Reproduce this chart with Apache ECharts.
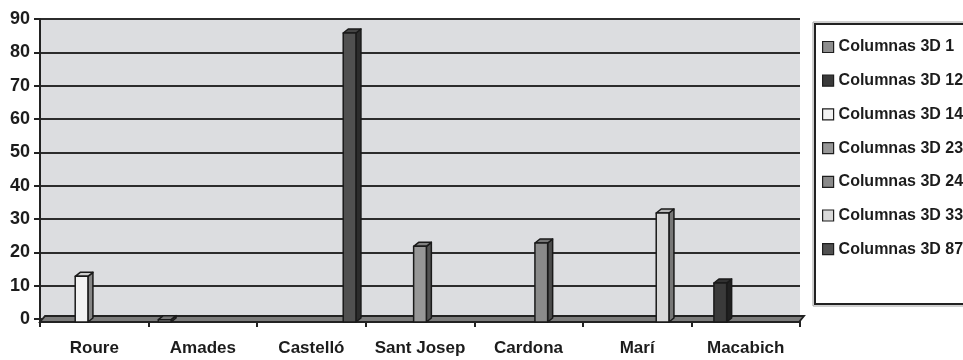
<!DOCTYPE html>
<html>
<head>
<meta charset="utf-8">
<script src="https://cdn.jsdelivr.net/npm/echarts@6/dist/echarts.min.js"></script>
<style>
  html, body { margin: 0; padding: 0; background: #ffffff; }
  #chart { width: 963px; height: 360px; }
</style>
</head>
<body>
<div id="chart"></div>
<script>
// Category names along the floor
const categories = ['Roure', 'Amades', 'Castelló', 'Sant Josep', 'Cardona', 'Marí', 'Macabich'];

// Legend entries, one per column series
const seriesNames = ['Columnas 3D 1', 'Columnas 3D 12', 'Columnas 3D 14', 'Columnas 3D 23',
                     'Columnas 3D 24', 'Columnas 3D 33', 'Columnas 3D 87'];

// Column height per category and the series each column belongs to
const values = [14, 1, 87, 23, 24, 33, 12];
const seriesOfCategory = [2, 0, 6, 3, 4, 5, 1];

// Y axis tick values
const yTicks = [0, 10, 20, 30, 40, 50, 60, 70, 80, 90];

// Front-face colour of each series
const seriesColors = ['#8e8e8e', '#3a3a3a', '#f2f2f2', '#979797', '#8a8a8a', '#d9d9d9', '#505050'];

const FONT = "'Liberation Sans', Arial, sans-serif";

function shade(hex, f) {
  const n = parseInt(hex.slice(1), 16);
  const ch = [(n >> 16) & 255, (n >> 8) & 255, n & 255].map(c => {
    const v = f < 0 ? c * (1 + f) : c + (255 - c) * f;
    return Math.max(0, Math.min(255, Math.round(v)));
  });
  return 'rgb(' + ch.join(',') + ')';
}

const DX = 5, DY = 4;          // depth offset of the 3D columns
const GROUP_FILL = 0.82;       // share of a category slot used by the cluster

function columnRenderer(sIdx) {
  const base = seriesColors[sIdx];
  return function (params, api) {
    const ci = api.value(0);
    const v = api.value(1);
    const zero = api.coord([ci, 0]);
    const top = api.coord([ci, v]);
    const catW = api.size([1, 0])[0];
    const slot = catW * GROUP_FILL / seriesNames.length;
    const x0 = zero[0] - catW / 2 + catW * (1 - GROUP_FILL) / 2 + sIdx * slot;
    const w = slot;
    const yTopFront = top[1] + DY;
    const yBotFront = zero[1] + DY - 1;
    const stroke = { stroke: '#1a1a1a', lineWidth: 1.5, lineJoin: 'round' };
    return {
      type: 'group',
      children: [
        { type: 'polygon', shape: { points: [[x0 + w, yTopFront], [x0 + w + DX, top[1]], [x0 + w + DX, zero[1] - 1], [x0 + w, yBotFront]] },
          style: Object.assign({ fill: shade(base, -0.45) }, stroke) },
        { type: 'polygon', shape: { points: [[x0, yTopFront], [x0 + DX, top[1]], [x0 + w + DX, top[1]], [x0 + w, yTopFront]] },
          style: Object.assign({ fill: shade(base, -0.15) }, stroke) },
        { type: 'rect', shape: { x: x0, y: yTopFront, width: w, height: yBotFront - yTopFront },
          style: Object.assign({ fill: base }, stroke) }
      ]
    };
  };
}

const series = seriesNames.map((name, s) => ({
  name: name,
  type: 'custom',
  z: 3,
  itemStyle: { color: seriesColors[s] },
  renderItem: columnRenderer(s),
  encode: { x: 0, y: 1 },
  data: values.map((v, i) => [i, v]).filter((d, i) => seriesOfCategory[i] === s)
}));

// Floor slab under the columns
series.push({
  name: 'floor',
  type: 'custom',
  z: 2,
  silent: true,
  renderItem: function (params, api) {
    const cs = params.coordSys;
    const y0 = api.coord([0, 0])[1];
    const x0 = cs.x, x1 = cs.x + cs.width;
    return {
      type: 'polygon',
      shape: { points: [[x0, y0 + DY - 1], [x0 + DX, y0 - 3], [x1 + DX - 1, y0 - 3], [x1 - 1, y0 + DY - 1]] },
      style: { fill: '#7c7c7c', stroke: '#222', lineWidth: 1.8 }
    };
  },
  data: [[0, 0]]
});

const chart = echarts.init(document.getElementById('chart'), null, { renderer: 'canvas' });
chart.setOption({
  animation: false,
  backgroundColor: '#ffffff',
  color: seriesColors,
  grid: { left: 40, right: 163, top: 19, bottom: 41, show: true, backgroundColor: '#dcdde0', borderWidth: 0 },
  xAxis: {
    type: 'category',
    data: categories,
    boundaryGap: true,
    axisLine: { show: false },
    axisTick: { show: true, length: 8, lineStyle: { color: '#222', width: 2 } },
    axisLabel: { fontFamily: FONT, fontWeight: 'bold', fontSize: 17, color: '#1c1c1c', margin: 21, interval: 0 },
    splitLine: { show: false }
  },
  yAxis: {
    type: 'value',
    min: yTicks[0],
    max: yTicks[yTicks.length - 1],
    interval: 10,
    axisLine: { show: true, lineStyle: { color: '#222', width: 2 } },
    axisTick: { show: true, length: 6, lineStyle: { color: '#222', width: 2 } },
    axisLabel: { fontFamily: FONT, fontWeight: 'bold', fontSize: 18, color: '#1c1c1c', margin: 10 },
    splitLine: { show: true, lineStyle: { color: '#2c2c2c', width: 2 } }
  },
  legend: {
    data: seriesNames,
    orient: 'vertical',
    left: 822,
    top: 37,
    padding: 0,
    itemWidth: 11,
    itemHeight: 11,
    itemGap: 13.7,
    icon: 'rect',
    selectedMode: false,
    itemStyle: { borderColor: '#1e1e1e', borderWidth: 1.2 },
    textStyle: { fontFamily: FONT, fontWeight: 'bold', fontSize: 16, lineHeight: 20, color: '#1c1c1c' }
  },
  graphic: [
    { type: 'rect', z: -1, shape: { x: 813, y: 22, width: 170, height: 284 }, style: { fill: 'none', stroke: '#a0a0a0', lineWidth: 1 } },
    { type: 'rect', z: -1, shape: { x: 815, y: 24, width: 170, height: 280 }, style: { fill: '#ffffff', stroke: '#222', lineWidth: 2 } }
  ],
  series: series
});
</script>
</body>
</html>
